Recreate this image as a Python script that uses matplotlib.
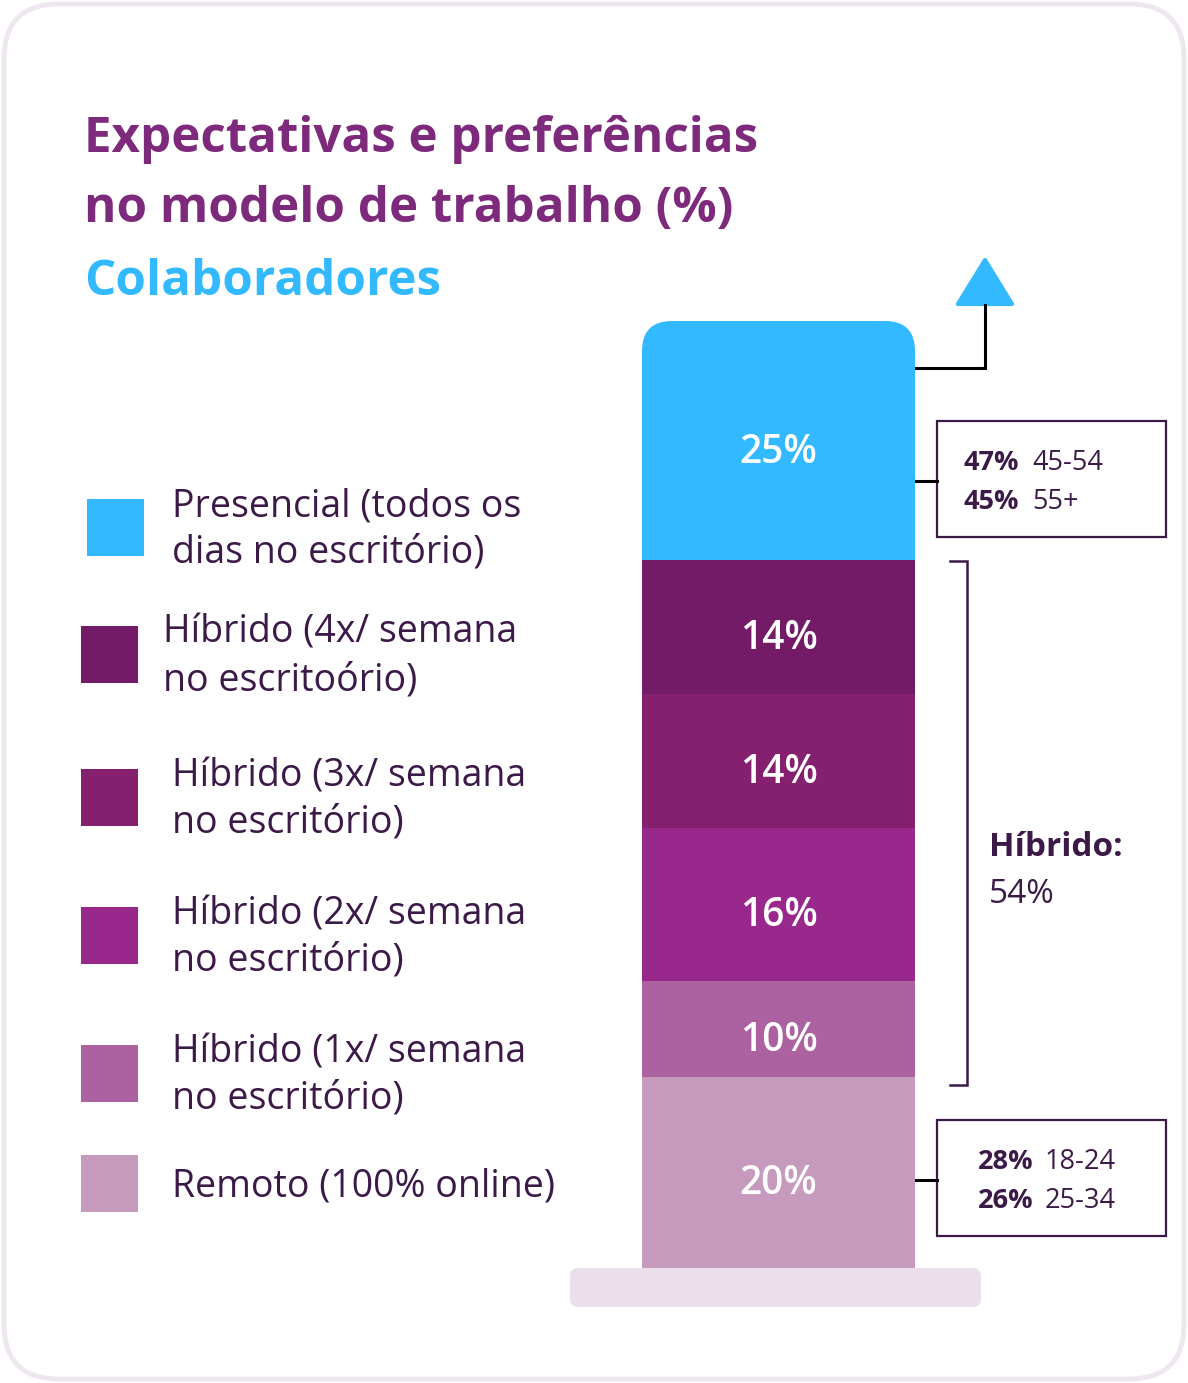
import matplotlib
matplotlib.use("Agg")
import matplotlib.pyplot as plt
from matplotlib.patches import FancyBboxPatch, Rectangle, Polygon
from matplotlib.transforms import offset_copy

# ---------------- data ----------------
categories = ["Remoto (100% online)",
              "Híbrido (1x/ semana no escritório)",
              "Híbrido (2x/ semana no escritório)",
              "Híbrido (3x/ semana no escritório)",
              "Híbrido (4x/ semana no escritoório)",
              "Presencial (todos os dias no escritório)"]
values = [20, 10, 16, 14, 14, 25]
colors = ["#C59ABD", "#AC62A0", "#98288B", "#85206F", "#741B67", "#33B9FF"]
value_labels = ["20%", "10%", "16%", "14%", "14%", "25%"]

legend_lines = [
    ["Presencial (todos os", "dias no escritório)"],
    ["Híbrido (4x/ semana", "no escritoório)"],
    ["Híbrido (3x/ semana", "no escritório)"],
    ["Híbrido (2x/ semana", "no escritório)"],
    ["Híbrido (1x/ semana", "no escritório)"],
    ["Remoto (100% online)"],
]
legend_colors = ["#33B9FF", "#741B67", "#85206F", "#98288B", "#AC62A0", "#C59ABD"]

title_lines = ["Expectativas e preferências", "no modelo de trabalho (%)"]
subtitle = "Colaboradores"
box_top = [("47%", "45-54"), ("45%", "55+")]
box_bottom = [("28%", "18-24"), ("26%", "25-34")]
hybrid_label = "Híbrido:"
hybrid_value = "54%"

TITLE_C = "#7E2A7C"
DARK = "#3B1A48"
FONT = "Open Sans"

W, H = 1188, 1383
fig = plt.figure(figsize=(W / 100, H / 100), dpi=100)
bg = fig.add_axes([0, 0, 1, 1])
bg.set_xlim(0, W)
bg.set_ylim(H, 0)
bg.axis("off")

# card
bg.add_patch(FancyBboxPatch((4, 4), W - 8, H - 8,
                            boxstyle="round,pad=0,rounding_size=55",
                            facecolor="white", edgecolor="#EEE7EF", lw=3.5))

# titles
bg.text(84, 152, title_lines[0], fontsize=35.5, fontweight="bold", color=TITLE_C,
        family=FONT, va="baseline")
bg.text(84, 222, title_lines[1], fontsize=35.5, fontweight="bold", color=TITLE_C,
        family=FONT, va="baseline")
bg.text(84, 295, subtitle, fontsize=35.5, fontweight="bold", color="#33B9FF",
        family=FONT, va="baseline")

# legend
sq = [(87, 499), (81, 626), (81, 769), (81, 907), (81, 1045), (81, 1155)]
tx = [172, 163, 172, 172, 172, 172]
base_y = [516, 643, 786, 924, 1062, 1196]
for (sx, sy), c, lines, x0, by in zip(sq, legend_colors, legend_lines, tx, base_y):
    bg.add_patch(Rectangle((sx, sy), 57, 57, facecolor=c, edgecolor="none"))
    for i, ln in enumerate(lines):
        bg.text(x0, by + i * 47, ln, fontsize=27, color=DARK, family=FONT,
                va="baseline")

# base plate
bg.add_patch(FancyBboxPatch((570, 1268), 411, 39,
                            boxstyle="round,pad=0,rounding_size=8",
                            facecolor="#ECDFEC", edgecolor="none"))

# connectors
bg.plot([915, 985, 985], [368, 368, 305], color="black", lw=2.2,
        solid_joinstyle="miter")
bg.add_patch(Polygon([[958, 304], [1012, 304], [985, 260]], closed=True,
                     facecolor="#33B9FF", edgecolor="#33B9FF", lw=3,
                     joinstyle="round"))
bg.plot([915, 937], [481, 481], color="black", lw=2.2)
bg.plot([915, 937], [1180, 1180], color="black", lw=2.2)

# annotation boxes
for (bx, by, bw, bh), rows, x_b, x_r, y0 in [
        ((937, 421, 229, 116), box_top, 964, 1032, 470),
        ((937, 1120, 229, 116), box_bottom, 978, 1045, 1169)]:
    bg.add_patch(Rectangle((bx, by), bw, bh, facecolor="white",
                           edgecolor=DARK, lw=1.6))
    for i, (b, r) in enumerate(rows):
        bg.text(x_b, y0 + i * 39, b, fontsize=19.5, fontweight="bold",
                color=DARK, family=FONT, va="baseline")
        bg.text(x_r, y0 + i * 39, r, fontsize=19.5, color=DARK,
                family=FONT, va="baseline")

# hybrid bracket
bg.plot([950, 967, 967, 950], [561, 561, 1085, 1085], color=DARK, lw=1.8,
        solid_joinstyle="miter")
bg.text(989, 856, hybrid_label, fontsize=24, fontweight="bold", color=DARK,
        family=FONT, va="baseline")
bg.text(989, 903, hybrid_value, fontsize=24, color=DARK, family=FONT,
        va="baseline")

# ---------------- bar ----------------
bar_left, bar_right, bar_bot, bar_top = 642, 915, 1268, 321
ax = fig.add_axes([bar_left / W, (H - bar_bot) / H,
                   (bar_right - bar_left) / W, (bar_bot - bar_top) / H])
ax.patch.set_alpha(0)
ax.axis("off")
total = sum(values)
ax.set_xlim(-0.5, 0.5)
ax.set_ylim(0, total)

label_tr = offset_copy(ax.transData, fig=fig, x=0, y=-5, units="points")
bottom = 0
n = len(values)
px_per_unit_y = (bar_bot - bar_top) / total
px_per_unit_x = (bar_right - bar_left) / 1.0
for i, (v, c, lab) in enumerate(zip(values, colors, value_labels)):
    bars = ax.bar(0, v, width=1.0, bottom=bottom, color=c, edgecolor="none")
    if i == n - 1:
        r_px = 30
        clip = FancyBboxPatch((-0.5, bottom - v), 1.0, 2 * v,
                              boxstyle=f"round,pad=0,rounding_size={r_px / px_per_unit_x}",
                              mutation_aspect=px_per_unit_x / px_per_unit_y,
                              transform=ax.transData, facecolor="none",
                              edgecolor="none")
        for b in bars:
            b.set_clip_path(clip)
    ax.text(0, bottom + v / 2, lab, ha="center", va="center_baseline",
            color="white", fontsize=28, fontweight="semibold", family=FONT,
            transform=label_tr)
    bottom += v

fig.savefig("out.png", dpi=100)
